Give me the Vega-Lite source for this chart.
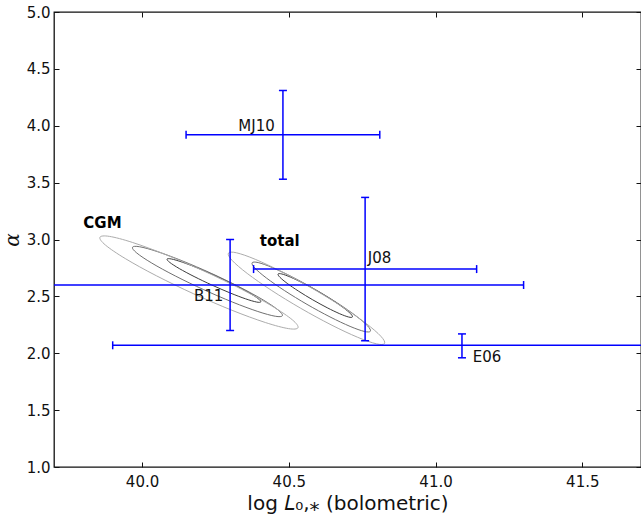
{
  "$schema": "https://vega.github.io/schema/vega-lite/v6.json",
  "autosize": {"type": "none"},
  "padding": {"left": 54, "top": 12, "right": 0, "bottom": 48},
  "width": 587,
  "height": 455,
  "background": "white",
  "config": {
    "view": {"stroke": "#111111", "strokeWidth": 1.3},
    "axis": {
      "grid": false,
      "domain": false,
      "tickColor": "#111111",
      "tickSize": -5,
      "tickWidth": 1,
      "labelFont": "DejaVu Sans",
      "labelFontSize": 15,
      "labelColor": "#111111",
      "titleColor": "#111111",
      "titleFontWeight": "normal"
    }
  },
  "datasets": {
    "contours": [
      {"contour": "CGM-1", "level": "inner", "k": 0, "x": 40.4046, "y": 2.4515},
      {"contour": "CGM-1", "level": "inner", "k": 1, "x": 40.3898, "y": 2.4505},
      {"contour": "CGM-1", "level": "inner", "k": 2, "x": 40.3528, "y": 2.4783},
      {"contour": "CGM-1", "level": "inner", "k": 3, "x": 40.2995, "y": 2.5307},
      {"contour": "CGM-1", "level": "inner", "k": 4, "x": 40.2379, "y": 2.5996},
      {"contour": "CGM-1", "level": "inner", "k": 5, "x": 40.1773, "y": 2.6746},
      {"contour": "CGM-1", "level": "inner", "k": 6, "x": 40.1270, "y": 2.7443},
      {"contour": "CGM-1", "level": "inner", "k": 7, "x": 40.0946, "y": 2.7981},
      {"contour": "CGM-1", "level": "inner", "k": 8, "x": 40.0852, "y": 2.8277},
      {"contour": "CGM-1", "level": "inner", "k": 9, "x": 40.1000, "y": 2.8287},
      {"contour": "CGM-1", "level": "inner", "k": 10, "x": 40.1370, "y": 2.8009},
      {"contour": "CGM-1", "level": "inner", "k": 11, "x": 40.1903, "y": 2.7485},
      {"contour": "CGM-1", "level": "inner", "k": 12, "x": 40.2520, "y": 2.6796},
      {"contour": "CGM-1", "level": "inner", "k": 13, "x": 40.3125, "y": 2.6046},
      {"contour": "CGM-1", "level": "inner", "k": 14, "x": 40.3628, "y": 2.5349},
      {"contour": "CGM-1", "level": "inner", "k": 15, "x": 40.3952, "y": 2.4811},

      {"contour": "CGM-2", "level": "middle", "k": 0, "x": 40.4782, "y": 2.3300},
      {"contour": "CGM-2", "level": "middle", "k": 1, "x": 40.4539, "y": 2.3253},
      {"contour": "CGM-2", "level": "middle", "k": 2, "x": 40.3944, "y": 2.3672},
      {"contour": "CGM-2", "level": "middle", "k": 3, "x": 40.3088, "y": 2.4492},
      {"contour": "CGM-2", "level": "middle", "k": 4, "x": 40.2101, "y": 2.5588},
      {"contour": "CGM-2", "level": "middle", "k": 5, "x": 40.1133, "y": 2.6794},
      {"contour": "CGM-2", "level": "middle", "k": 6, "x": 40.0332, "y": 2.7926},
      {"contour": "CGM-2", "level": "middle", "k": 7, "x": 39.9820, "y": 2.8812},
      {"contour": "CGM-2", "level": "middle", "k": 8, "x": 39.9674, "y": 2.9316},
      {"contour": "CGM-2", "level": "middle", "k": 9, "x": 39.9917, "y": 2.9363},
      {"contour": "CGM-2", "level": "middle", "k": 10, "x": 40.0512, "y": 2.8944},
      {"contour": "CGM-2", "level": "middle", "k": 11, "x": 40.1368, "y": 2.8124},
      {"contour": "CGM-2", "level": "middle", "k": 12, "x": 40.2355, "y": 2.7028},
      {"contour": "CGM-2", "level": "middle", "k": 13, "x": 40.3323, "y": 2.5822},
      {"contour": "CGM-2", "level": "middle", "k": 14, "x": 40.4124, "y": 2.4690},
      {"contour": "CGM-2", "level": "middle", "k": 15, "x": 40.4636, "y": 2.3804},

      {"contour": "CGM-3", "level": "outer", "k": 0, "x": 40.5313, "y": 2.2246},
      {"contour": "CGM-3", "level": "outer", "k": 1, "x": 40.4989, "y": 2.2166},
      {"contour": "CGM-3", "level": "outer", "k": 2, "x": 40.4200, "y": 2.2703},
      {"contour": "CGM-3", "level": "outer", "k": 3, "x": 40.3067, "y": 2.3775},
      {"contour": "CGM-3", "level": "outer", "k": 4, "x": 40.1763, "y": 2.5220},
      {"contour": "CGM-3", "level": "outer", "k": 5, "x": 40.0485, "y": 2.6817},
      {"contour": "CGM-3", "level": "outer", "k": 6, "x": 39.9429, "y": 2.8323},
      {"contour": "CGM-3", "level": "outer", "k": 7, "x": 39.8754, "y": 2.9509},
      {"contour": "CGM-3", "level": "outer", "k": 8, "x": 39.8565, "y": 3.0194},
      {"contour": "CGM-3", "level": "outer", "k": 9, "x": 39.8889, "y": 3.0274},
      {"contour": "CGM-3", "level": "outer", "k": 10, "x": 39.9678, "y": 2.9737},
      {"contour": "CGM-3", "level": "outer", "k": 11, "x": 40.0811, "y": 2.8665},
      {"contour": "CGM-3", "level": "outer", "k": 12, "x": 40.2115, "y": 2.7220},
      {"contour": "CGM-3", "level": "outer", "k": 13, "x": 40.3393, "y": 2.5623},
      {"contour": "CGM-3", "level": "outer", "k": 14, "x": 40.4449, "y": 2.4117},
      {"contour": "CGM-3", "level": "outer", "k": 15, "x": 40.5124, "y": 2.2931},

      {"contour": "total-1", "level": "inner", "k": 0, "x": 40.7168, "y": 2.3187},
      {"contour": "total-1", "level": "inner", "k": 1, "x": 40.7039, "y": 2.3185},
      {"contour": "total-1", "level": "inner", "k": 2, "x": 40.6737, "y": 2.3471},
      {"contour": "total-1", "level": "inner", "k": 3, "x": 40.6307, "y": 2.4002},
      {"contour": "total-1", "level": "inner", "k": 4, "x": 40.5816, "y": 2.4696},
      {"contour": "total-1", "level": "inner", "k": 5, "x": 40.5338, "y": 2.5448},
      {"contour": "total-1", "level": "inner", "k": 6, "x": 40.4945, "y": 2.6144},
      {"contour": "total-1", "level": "inner", "k": 7, "x": 40.4698, "y": 2.6677},
      {"contour": "total-1", "level": "inner", "k": 8, "x": 40.4634, "y": 2.6967},
      {"contour": "total-1", "level": "inner", "k": 9, "x": 40.4763, "y": 2.6969},
      {"contour": "total-1", "level": "inner", "k": 10, "x": 40.5065, "y": 2.6683},
      {"contour": "total-1", "level": "inner", "k": 11, "x": 40.5495, "y": 2.6152},
      {"contour": "total-1", "level": "inner", "k": 12, "x": 40.5986, "y": 2.5458},
      {"contour": "total-1", "level": "inner", "k": 13, "x": 40.6464, "y": 2.4706},
      {"contour": "total-1", "level": "inner", "k": 14, "x": 40.6857, "y": 2.4010},
      {"contour": "total-1", "level": "inner", "k": 15, "x": 40.7104, "y": 2.3477},

      {"contour": "total-2", "level": "middle", "k": 0, "x": 40.7780, "y": 2.1938},
      {"contour": "total-2", "level": "middle", "k": 1, "x": 40.7571, "y": 2.1919},
      {"contour": "total-2", "level": "middle", "k": 2, "x": 40.7088, "y": 2.2361},
      {"contour": "total-2", "level": "middle", "k": 3, "x": 40.6403, "y": 2.3196},
      {"contour": "total-2", "level": "middle", "k": 4, "x": 40.5620, "y": 2.4298},
      {"contour": "total-2", "level": "middle", "k": 5, "x": 40.4860, "y": 2.5498},
      {"contour": "total-2", "level": "middle", "k": 6, "x": 40.4238, "y": 2.6614},
      {"contour": "total-2", "level": "middle", "k": 7, "x": 40.3848, "y": 2.7476},
      {"contour": "total-2", "level": "middle", "k": 8, "x": 40.3750, "y": 2.7952},
      {"contour": "total-2", "level": "middle", "k": 9, "x": 40.3959, "y": 2.7971},
      {"contour": "total-2", "level": "middle", "k": 10, "x": 40.4442, "y": 2.7529},
      {"contour": "total-2", "level": "middle", "k": 11, "x": 40.5127, "y": 2.6694},
      {"contour": "total-2", "level": "middle", "k": 12, "x": 40.5910, "y": 2.5592},
      {"contour": "total-2", "level": "middle", "k": 13, "x": 40.6670, "y": 2.4392},
      {"contour": "total-2", "level": "middle", "k": 14, "x": 40.7292, "y": 2.3276},
      {"contour": "total-2", "level": "middle", "k": 15, "x": 40.7682, "y": 2.2414},

      {"contour": "total-3", "level": "outer", "k": 0, "x": 40.8262, "y": 2.0861},
      {"contour": "total-3", "level": "outer", "k": 1, "x": 40.7985, "y": 2.0828},
      {"contour": "total-3", "level": "outer", "k": 2, "x": 40.7345, "y": 2.1404},
      {"contour": "total-3", "level": "outer", "k": 3, "x": 40.6439, "y": 2.2502},
      {"contour": "total-3", "level": "outer", "k": 4, "x": 40.5406, "y": 2.3954},
      {"contour": "total-3", "level": "outer", "k": 5, "x": 40.4403, "y": 2.5540},
      {"contour": "total-3", "level": "outer", "k": 6, "x": 40.3583, "y": 2.7017},
      {"contour": "total-3", "level": "outer", "k": 7, "x": 40.3069, "y": 2.8162},
      {"contour": "total-3", "level": "outer", "k": 8, "x": 40.2942, "y": 2.8799},
      {"contour": "total-3", "level": "outer", "k": 9, "x": 40.3219, "y": 2.8832},
      {"contour": "total-3", "level": "outer", "k": 10, "x": 40.3859, "y": 2.8256},
      {"contour": "total-3", "level": "outer", "k": 11, "x": 40.4765, "y": 2.7158},
      {"contour": "total-3", "level": "outer", "k": 12, "x": 40.5798, "y": 2.5706},
      {"contour": "total-3", "level": "outer", "k": 13, "x": 40.6801, "y": 2.4120},
      {"contour": "total-3", "level": "outer", "k": 14, "x": 40.7621, "y": 2.2643},
      {"contour": "total-3", "level": "outer", "k": 15, "x": 40.8135, "y": 2.1498}
    ],
    "measurements": [
      {"name": "MJ10", "x": 40.48, "xlo": 40.15, "xhi": 40.81, "y": 3.92, "ylo": 3.53, "yhi": 4.31},
      {"name": "J08", "x": 40.76, "xlo": 40.38, "xhi": 41.14, "y": 2.74, "ylo": 2.11, "yhi": 3.37},
      {"name": "B11", "x": 40.30, "xlo": 39.30, "xhi": 41.30, "y": 2.60, "ylo": 2.20, "yhi": 3.00},
      {"name": "E06", "x": 41.09, "xlo": 39.90, "xhi": 42.28, "y": 2.07, "ylo": 1.96, "yhi": 2.17}
    ],
    "labels": [
      {"text": "MJ10", "x": 40.328, "y": 3.954, "bold": false},
      {"text": "J08", "x": 40.769, "y": 2.791, "bold": false},
      {"text": "B11", "x": 40.177, "y": 2.459, "bold": false},
      {"text": "E06", "x": 41.127, "y": 1.926, "bold": false},
      {"text": "CGM", "x": 39.800, "y": 3.098, "bold": true},
      {"text": "total", "x": 40.401, "y": 2.945, "bold": true}
    ]
  },
  "resolve": {"axis": {"x": "independent", "y": "independent"}},
  "layer": [
    {
      "layer": [
        {
          "data": {"name": "contours"},
          "mark": {"type": "line", "interpolate": "cardinal-closed", "strokeWidth": 1, "clip": true},
          "encoding": {
            "x": {
              "field": "x", "type": "quantitative",
              "scale": {"domain": [39.7, 41.7], "nice": false, "zero": false},
              "axis": {
                "values": [40.0, 40.5, 41.0, 41.5],
                "format": ".1f",
                "labelPadding": 12,
                "title": "log 𝐿₀,⁎ (bolometric)",
                "titleFont": "DejaVu Sans",
                "titleFontSize": 20,
                "titlePadding": 4
              }
            },
            "y": {
              "field": "y", "type": "quantitative",
              "scale": {"domain": [1, 5], "nice": false, "zero": false},
              "axis": {
                "values": [1.0, 1.5, 2.0, 2.5, 3.0, 3.5, 4.0, 4.5, 5.0],
                "format": ".1f",
                "labelPadding": 9,
                "title": "α",
                "titleFont": "DejaVu Serif",
                "titleFontStyle": "italic",
                "titleFontSize": 20,
                "titlePadding": 4
              }
            },
            "detail": {"field": "contour", "type": "nominal"},
            "order": {"field": "k", "type": "quantitative"},
            "color": {
              "field": "level", "type": "nominal",
              "scale": {"domain": ["inner", "middle", "outer"], "range": ["#3c3c3c", "#707070", "#acacac"]},
              "legend": null
            }
          }
        },
        {
          "data": {"name": "measurements"},
          "mark": {"type": "rule", "color": "#0000ff", "strokeWidth": 1.5, "clip": true},
          "encoding": {
            "x": {"field": "xlo", "type": "quantitative"},
            "x2": {"field": "xhi"},
            "y": {"field": "y", "type": "quantitative"}
          }
        },
        {
          "data": {"name": "measurements"},
          "mark": {"type": "tick", "orient": "vertical", "color": "#0000ff", "size": 8, "thickness": 1.5, "opacity": 1, "clip": true},
          "encoding": {
            "x": {"field": "xlo", "type": "quantitative"},
            "y": {"field": "y", "type": "quantitative"}
          }
        },
        {
          "data": {"name": "measurements"},
          "mark": {"type": "tick", "orient": "vertical", "color": "#0000ff", "size": 8, "thickness": 1.5, "opacity": 1, "clip": true},
          "encoding": {
            "x": {"field": "xhi", "type": "quantitative"},
            "y": {"field": "y", "type": "quantitative"}
          }
        },
        {
          "data": {"name": "measurements"},
          "mark": {"type": "tick", "orient": "horizontal", "color": "#0000ff", "size": 8, "thickness": 1.5, "opacity": 1, "clip": true},
          "encoding": {
            "x": {"field": "x", "type": "quantitative"},
            "y": {"field": "ylo", "type": "quantitative"}
          }
        },
        {
          "data": {"name": "measurements"},
          "mark": {"type": "tick", "orient": "horizontal", "color": "#0000ff", "size": 8, "thickness": 1.5, "opacity": 1, "clip": true},
          "encoding": {
            "x": {"field": "x", "type": "quantitative"},
            "y": {"field": "yhi", "type": "quantitative"}
          }
        },
        {
          "data": {"name": "labels"},
          "transform": [{"filter": "!datum.bold"}],
          "mark": {"type": "text", "align": "left", "baseline": "alphabetic", "font": "DejaVu Sans", "fontSize": 15, "color": "#111111"},
          "encoding": {
            "x": {"field": "x", "type": "quantitative"},
            "y": {"field": "y", "type": "quantitative"},
            "text": {"field": "text"}
          }
        },
        {
          "data": {"name": "labels"},
          "transform": [{"filter": "datum.bold"}],
          "mark": {"type": "text", "align": "left", "baseline": "alphabetic", "font": "DejaVu Sans", "fontSize": 15, "fontWeight": "bold", "color": "#000000"},
          "encoding": {
            "x": {"field": "x", "type": "quantitative"},
            "y": {"field": "y", "type": "quantitative"},
            "text": {"field": "text"}
          }
        }
      ]
    },
    {
      "data": {"name": "measurements"},
      "mark": {"type": "rule", "color": "#0000ff", "strokeWidth": 1.5, "clip": true},
      "encoding": {
        "x": {
          "field": "x", "type": "quantitative",
          "scale": {"domain": [39.7, 41.7], "nice": false, "zero": false},
          "axis": {"orient": "top", "values": [40.0, 40.5, 41.0, 41.5], "labels": false, "title": null}
        },
        "y": {
          "field": "ylo", "type": "quantitative",
          "scale": {"domain": [1, 5], "nice": false, "zero": false},
          "axis": {"orient": "right", "values": [1.0, 1.5, 2.0, 2.5, 3.0, 3.5, 4.0, 4.5, 5.0], "labels": false, "title": null}
        },
        "y2": {"field": "yhi"}
      }
    }
  ]
}
